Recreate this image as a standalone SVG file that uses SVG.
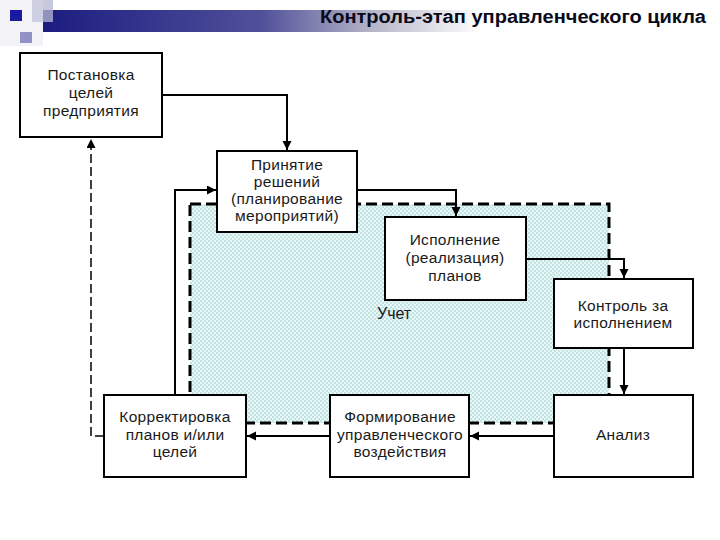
<svg xmlns="http://www.w3.org/2000/svg" width="720" height="540" viewBox="0 0 720 540">
  <defs>
    <linearGradient id="bar" x1="43" y1="0" x2="480" y2="0" gradientUnits="userSpaceOnUse">
      <stop offset="0" stop-color="#1c1c80"/>
      <stop offset="0.5" stop-color="#50509a"/>
      <stop offset="0.75" stop-color="#b4b4c8"/>
      <stop offset="1" stop-color="#ffffff"/>
    </linearGradient>
    <pattern id="dots" width="4" height="4" patternUnits="userSpaceOnUse">
      <rect width="4" height="4" fill="#eaf7f7"/>
      <rect x="0" y="0" width="2" height="2" fill="#c2e3e3"/>
      <rect x="2" y="2" width="2" height="2" fill="#c2e3e3"/>
    </pattern>
    <marker id="arr" markerUnits="userSpaceOnUse" markerWidth="10" markerHeight="10" refX="9" refY="4.5" orient="auto">
      <path d="M0,0 L9,4.5 L0,9 Z" fill="#000"/>
    </marker>
  </defs>
  <style>
    .box { fill: #fff; stroke: #000; stroke-width: 2; }
    .t { font-family: "Liberation Sans", Arial, sans-serif; font-size: 15.5px; letter-spacing: 0.3px; fill: #1a1a1a; text-anchor: middle; }
    .lbl { font-family: "Liberation Sans", Arial, sans-serif; font-size: 16px; fill: #1a1a1a; text-anchor: start; }
    .c { fill: none; stroke: #000; stroke-width: 2; }
    .title { font-family: "Liberation Sans", Arial, sans-serif; font-size: 18px; font-weight: bold; fill: #0a0a1a; }
  </style>

  <!-- header decoration -->
  <g id="header">
    <rect x="0" y="0" width="43" height="46" fill="#f2f2f7"/>
    <rect x="32" y="0" width="21" height="22" fill="#cfcfe2"/>
    <rect x="43" y="10" width="440" height="22" fill="url(#bar)"/>
    <rect x="43" y="0" width="10" height="22" fill="#c4c4dc" opacity="0.7"/>
    <rect x="10" y="10" width="12" height="11" fill="#1a1aa0"/>
    <rect x="20" y="32" width="12" height="11" fill="#9292c6"/>
    <text class="title" x="706" y="23" text-anchor="end" textLength="386" lengthAdjust="spacingAndGlyphs">Контроль-этап управленческого цикла</text>
  </g>

  <!-- accounting area -->
  <g id="uchet">
    <rect x="190" y="204" width="419" height="219" fill="url(#dots)" stroke="#000" stroke-width="3" stroke-dasharray="11 5"/>
    <text class="lbl" x="377" y="319">Учет</text>
  </g>

  <!-- connectors -->
  <g id="connectors">
    <path class="c" d="M162,95 H287 V150" marker-end="url(#arr)"/>
    <path class="c" d="M357,190 H456 V216" marker-end="url(#arr)"/>
    <path class="c" d="M526,259 H624 V278" marker-end="url(#arr)"/>
    <path class="c" d="M624,348 V394" marker-end="url(#arr)"/>
    <path class="c" d="M554,436 H470" marker-end="url(#arr)"/>
    <path class="c" d="M330,436 H247" marker-end="url(#arr)"/>
    <path class="c" d="M175,395 V190 H216" marker-end="url(#arr)"/>
    <path d="M104,436 H91 V139" fill="none" stroke="#000" stroke-width="1.5" stroke-dasharray="9 4" marker-end="url(#arr)"/>
  </g>

  <g id="postanovka">
    <rect class="box" x="20" y="53" width="142" height="84"/>
    <text class="t" x="91" y="80">Постановка</text>
    <text class="t" x="91" y="98">целей</text>
    <text class="t" x="91" y="116">предприятия</text>
  </g>

  <g id="prinyatie">
    <rect class="box" x="217" y="151" width="140" height="81"/>
    <text class="t" x="287" y="170">Принятие</text>
    <text class="t" x="287" y="187">решений</text>
    <text class="t" x="287" y="204">(планирование</text>
    <text class="t" x="287" y="221">мероприятий)</text>
  </g>

  <g id="ispolnenie">
    <rect class="box" x="385" y="217" width="141" height="83"/>
    <text class="t" x="455" y="245">Исполнение</text>
    <text class="t" x="455" y="263">(реализация)</text>
    <text class="t" x="455" y="281">планов</text>
  </g>

  <g id="kontrol">
    <rect class="box" x="554" y="279" width="139" height="69"/>
    <text class="t" x="623" y="311">Контроль за</text>
    <text class="t" x="623" y="328">исполнением</text>
  </g>

  <g id="analiz">
    <rect class="box" x="554" y="395" width="139" height="82"/>
    <text class="t" x="623" y="440">Анализ</text>
  </g>

  <g id="formirovanie">
    <rect class="box" x="330" y="395" width="139" height="82"/>
    <text class="t" x="400" y="422">Формирование</text>
    <text class="t" x="400" y="440">управленческого</text>
    <text class="t" x="400" y="457">воздействия</text>
  </g>

  <g id="korrektirovka">
    <rect class="box" x="104" y="395" width="142" height="82"/>
    <text class="t" x="175" y="422">Корректировка</text>
    <text class="t" x="175" y="440">планов и/или</text>
    <text class="t" x="175" y="457">целей</text>
  </g>
</svg>
